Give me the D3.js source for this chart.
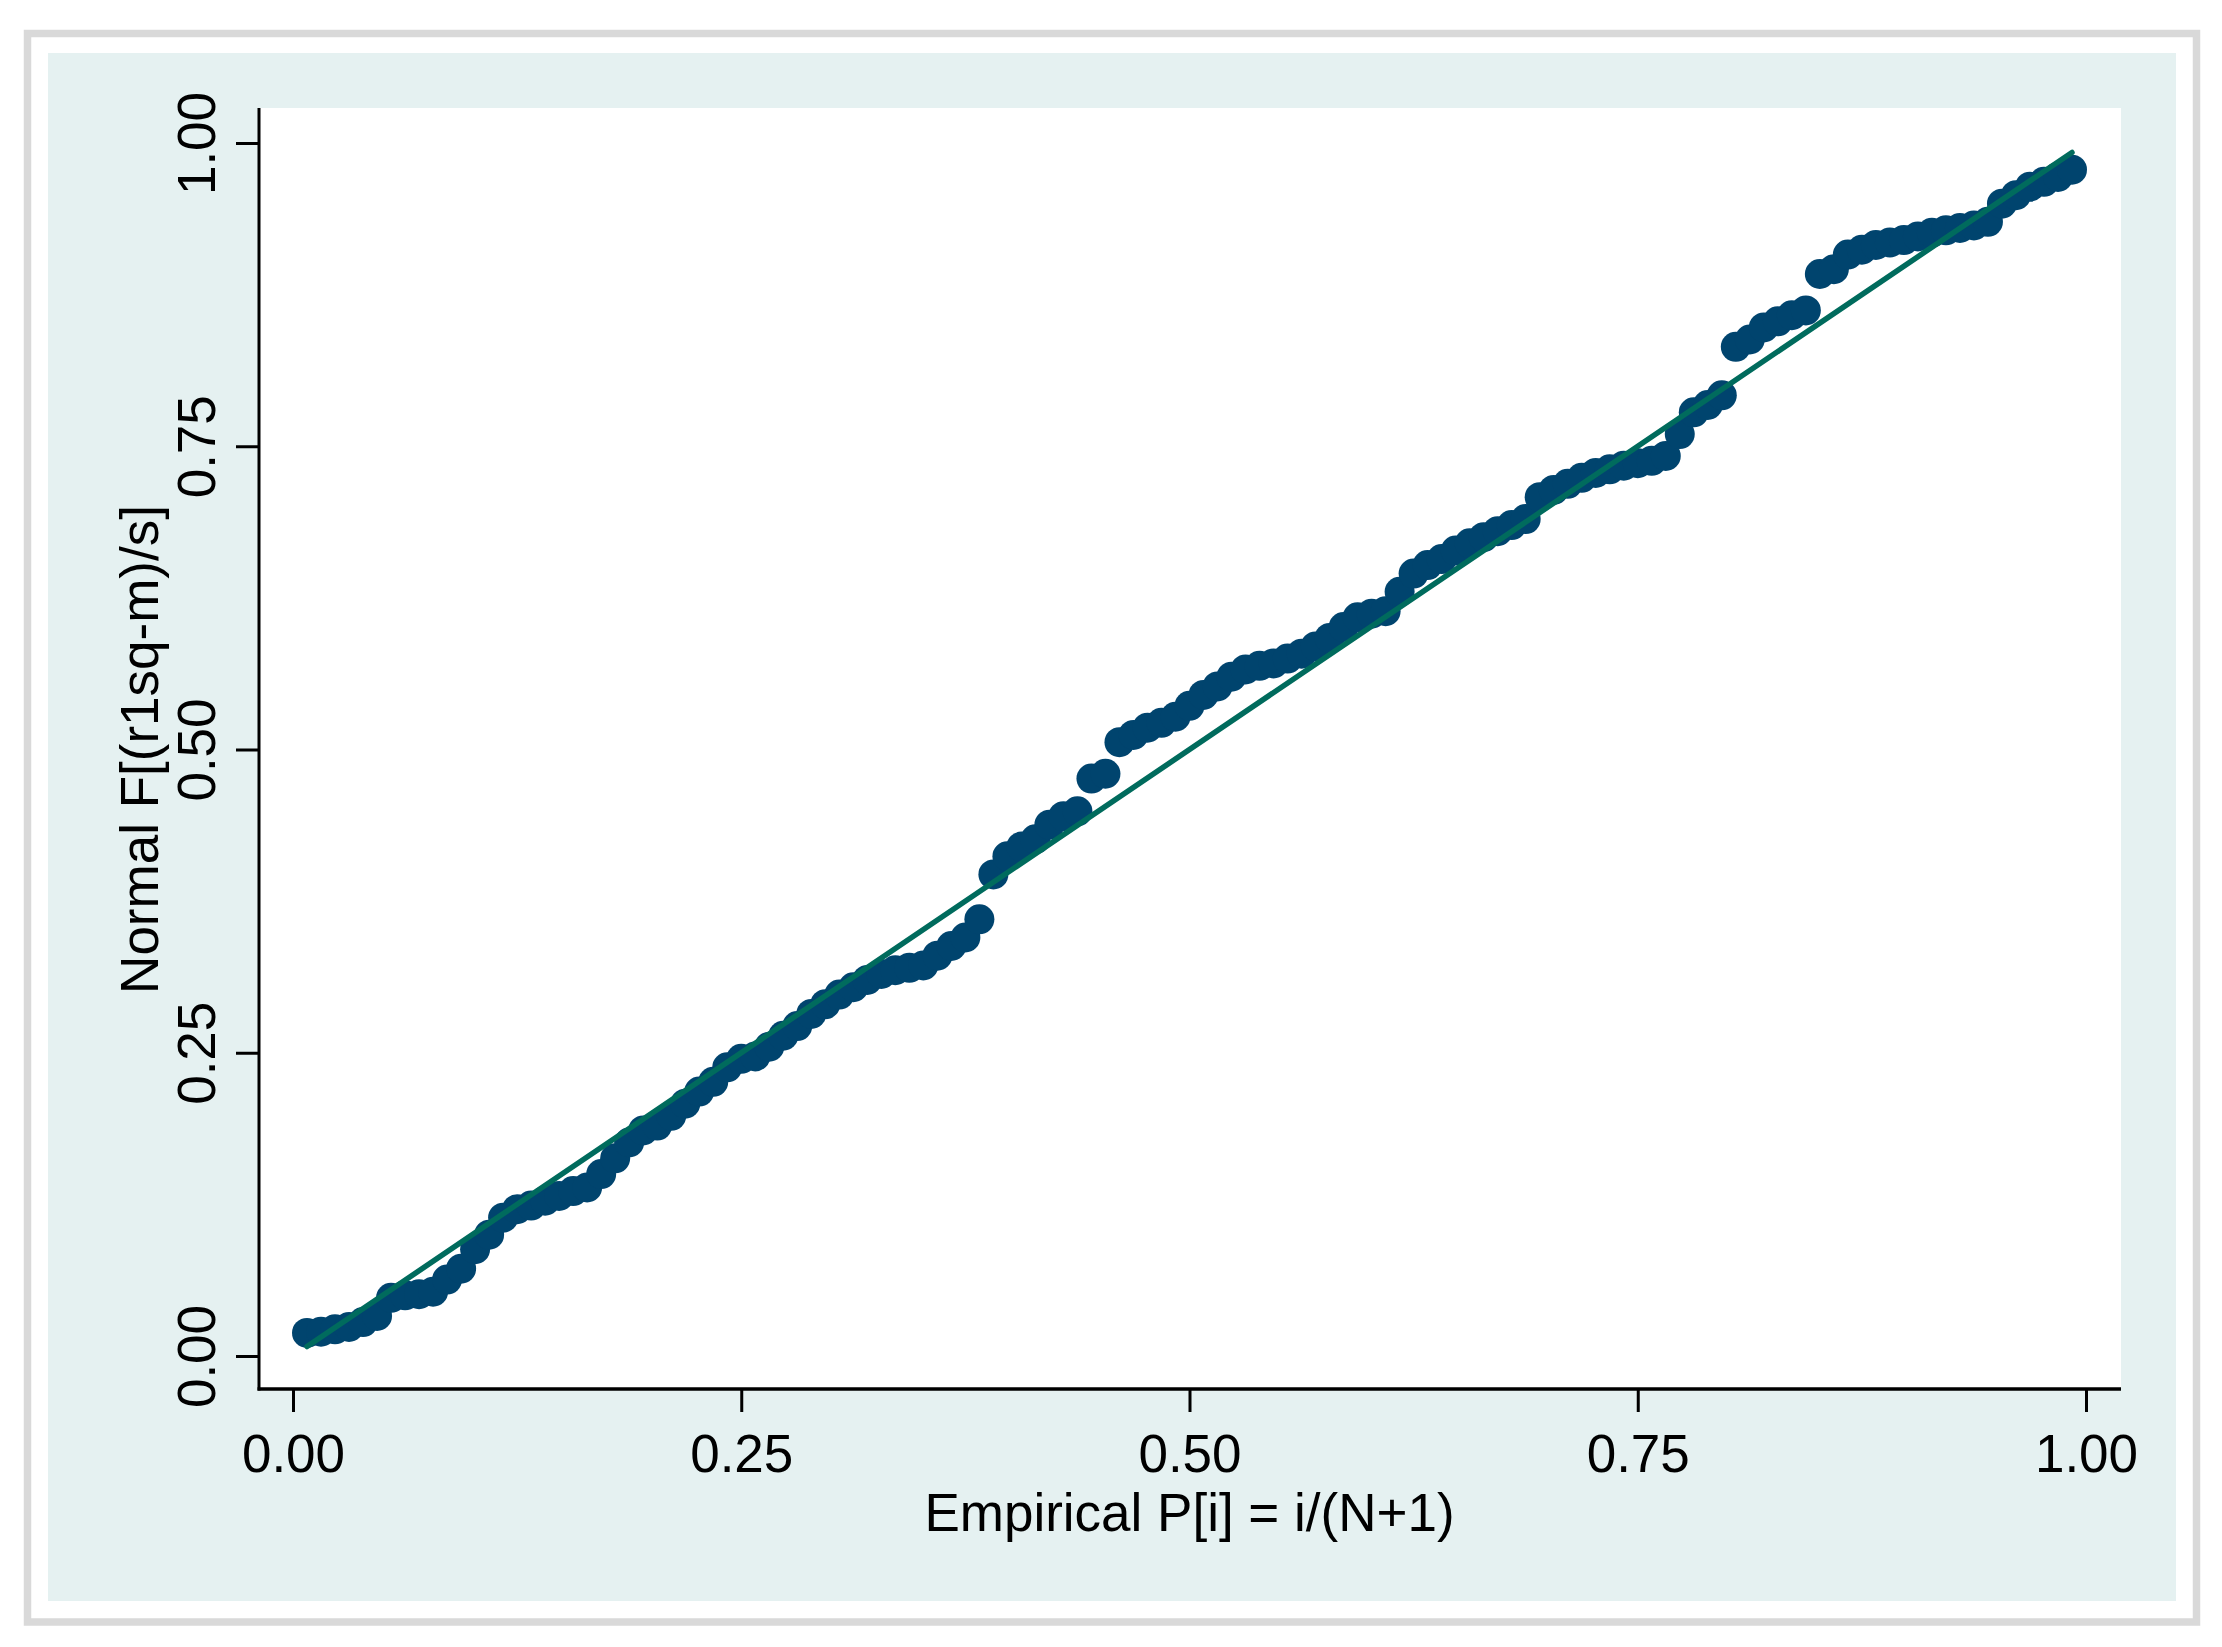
<!DOCTYPE html>
<html>
<head>
<meta charset="utf-8">
<script src="https://cdn.jsdelivr.net/npm/d3@7"></script>
<style>
  html, body { margin: 0; padding: 0; background: #ffffff; }
  svg { display: block; }
  text { font-family: "Liberation Sans", Arial, Helvetica, sans-serif; }
</style>
</head>
<body>
<div id="chart"></div>
<script>
// ---- data ----
const sampleSize = 127; // points, empirical P[i] = i/(N+1)
const normalF = [
  0.019, 0.020, 0.022, 0.024, 0.028, 0.033, 0.048, 0.050, 0.051, 0.053,
  0.063, 0.072, 0.088, 0.100, 0.114, 0.121, 0.124, 0.128, 0.132, 0.136,
  0.139, 0.150, 0.163, 0.176, 0.186, 0.190, 0.198, 0.208, 0.218, 0.226,
  0.238, 0.245, 0.247, 0.255, 0.264, 0.272, 0.282, 0.290, 0.298, 0.304,
  0.310, 0.315, 0.318, 0.320, 0.322, 0.330, 0.338, 0.345, 0.360, 0.397,
  0.412, 0.420, 0.426, 0.438, 0.445, 0.449, 0.476, 0.480, 0.506, 0.512,
  0.518, 0.522, 0.527, 0.536, 0.545, 0.552, 0.560, 0.566, 0.569, 0.571,
  0.575, 0.579, 0.585, 0.592, 0.601, 0.609, 0.612, 0.614, 0.630, 0.645,
  0.652, 0.657, 0.664, 0.670, 0.675, 0.680, 0.685, 0.690, 0.708, 0.714,
  0.719, 0.724, 0.728, 0.731, 0.734, 0.736, 0.738, 0.742, 0.760, 0.778,
  0.784, 0.792, 0.832, 0.838, 0.848, 0.853, 0.858, 0.862, 0.892, 0.896,
  0.908, 0.912, 0.916, 0.918, 0.920, 0.923, 0.926, 0.928, 0.930, 0.932,
  0.935, 0.950, 0.957, 0.964, 0.968, 0.972, 0.978
];
const empiricalP = normalF.map((_, i) => (i + 1) / (sampleSize + 1));
const xTicks = [0, 0.25, 0.5, 0.75, 1];
const yTicks = [0, 0.25, 0.5, 0.75, 1];
const xTickLabels = ["0.00", "0.25", "0.50", "0.75", "1.00"];
const yTickLabels = ["0.00", "0.25", "0.50", "0.75", "1.00"];
const xTitle = "Empirical P[i] = i/(N+1)";
const yTitle = "Normal F[(r1sq-m)/s]";

// ---- layout ----
const W = 2222, H = 1647;
const plot = { left: 259, right: 2121, top: 108, bottom: 1389 };
const markerColor = "#00446e";
const lineColor = "#006b5d";
const fontSize = 53;

const svg = d3.select("#chart").append("svg")
  .attr("width", W).attr("height", H);

// outer frame
svg.append("rect").attr("x", 0).attr("y", 0).attr("width", W).attr("height", H).attr("fill", "#ffffff");
svg.append("rect").attr("x", 27.5).attr("y", 33.5).attr("width", 2169).attr("height", 1588.5)
  .attr("fill", "#ffffff").attr("stroke", "#d9d9d9").attr("stroke-width", 7.5);
svg.append("rect").attr("x", 48).attr("y", 53).attr("width", 2128).attr("height", 1548)
  .attr("fill", "#e5f1f1");
// plot region
svg.append("rect").attr("x", plot.left).attr("y", plot.top)
  .attr("width", plot.right - plot.left).attr("height", plot.bottom - plot.top)
  .attr("fill", "#ffffff");

const x = d3.scaleLinear().domain([0, 1]).range([293, 2086]);
const y = d3.scaleLinear().domain([0, 1]).range([1356, 143]);

// markers
const pts = empiricalP.map((p, i) => ({ p, f: normalF[i] }));
svg.append("g").selectAll("circle").data(pts).join("circle")
  .attr("cx", d => x(d.p)).attr("cy", d => y(d.f)).attr("r", 15)
  .attr("fill", markerColor);

// reference line y = x over the data range
const refLine = [empiricalP[0], empiricalP[empiricalP.length - 1]];
svg.append("path")
  .datum(refLine)
  .attr("d", d3.line().x(d => x(d)).y(d => y(d)))
  .attr("fill", "none").attr("stroke", lineColor).attr("stroke-width", 5.5)
  .attr("stroke-linecap", "round");

// axes
const xAxis = d3.axisBottom(x).tickValues(xTicks)
  .tickFormat((d, i) => xTickLabels[i]).tickSize(23).tickSizeOuter(0);
const gx = svg.append("g").attr("transform", `translate(0,${plot.bottom})`).call(xAxis);
gx.select(".domain").remove();
gx.selectAll(".tick line").attr("stroke", "#000").attr("stroke-width", 3);
gx.selectAll(".tick text").attr("y", 83).attr("dy", 0)
  .attr("font-size", fontSize).attr("fill", "#000")
  .style("font-family", "'Liberation Sans', Arial, sans-serif");

const yAxis = d3.axisLeft(y).tickValues(yTicks)
  .tickFormat((d, i) => yTickLabels[i]).tickSize(23).tickSizeOuter(0);
const gy = svg.append("g").attr("transform", `translate(${plot.left},0)`).call(yAxis);
gy.select(".domain").remove();
gy.selectAll(".tick line").attr("stroke", "#000").attr("stroke-width", 3);
gy.selectAll(".tick text")
  .attr("x", 0).attr("y", 0).attr("dy", 0)
  .attr("transform", "translate(-44,0) rotate(-90)")
  .attr("text-anchor", "middle")
  .attr("font-size", fontSize).attr("fill", "#000")
  .style("font-family", "'Liberation Sans', Arial, sans-serif");

// axis lines
svg.append("line").attr("x1", plot.left).attr("x2", plot.left)
  .attr("y1", plot.top).attr("y2", plot.bottom + 1.5)
  .attr("stroke", "#000").attr("stroke-width", 3);
svg.append("line").attr("x1", plot.left - 1.5).attr("x2", plot.right)
  .attr("y1", plot.bottom).attr("y2", plot.bottom)
  .attr("stroke", "#000").attr("stroke-width", 3.5);

// titles
svg.append("text").attr("x", x(0.5)).attr("y", 1531)
  .attr("text-anchor", "middle").attr("font-size", fontSize).attr("fill", "#000")
  .text(xTitle);
svg.append("text")
  .attr("transform", `translate(158,${y(0.5)}) rotate(-90)`)
  .attr("text-anchor", "middle").attr("font-size", fontSize).attr("fill", "#000")
  .text(yTitle);
</script>
</body>
</html>
